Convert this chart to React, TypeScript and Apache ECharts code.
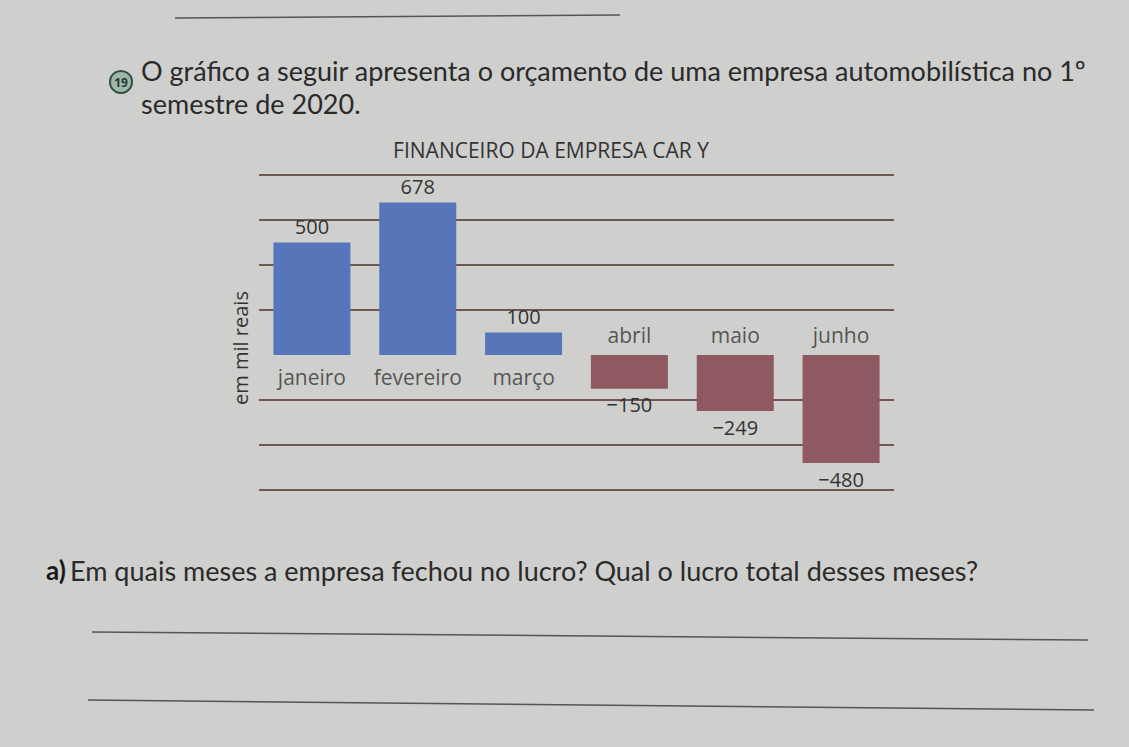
import React, { useEffect, useRef } from "react";
import * as echarts from "echarts";

const months = ["janeiro", "fevereiro", "março", "abril", "maio", "junho"];
const values = [500, 678, 100, -150, -249, -480];
const yMin = -600;
const yMax = 800;
const yStep = 200;
const chartTitle = "FINANCEIRO DA EMPRESA CAR Y";
const yName = "em mil reais";
const introLine1 = "O gráfico a seguir apresenta o orçamento de uma empresa automobilística no 1º";
const introLine2 = "semestre de 2020.";
const question = "Em quais meses a empresa fechou no lucro? Qual o lucro total desses meses?";

const BLUE = "#5676b9";
const MAROON = "#8f5961";
const GRID = "#4e302a";
const TEXT = "#333333";
const FONT = "Lato, 'Open Sans', sans-serif";
const CFONT = "'Open Sans', Lato, sans-serif";

const fmt = (v: number) => (v < 0 ? "\u2212" + Math.abs(v) : String(v));

export default function App() {
  const ref = useRef<HTMLDivElement>(null);
  useEffect(() => {
    if (!ref.current) return;
    const chart = echarts.init(ref.current, undefined, { renderer: "svg" });
    const tickCount = (yMax - yMin) / yStep + 1;
    const lineColors: string[] = [];
    for (let i = 0; i < tickCount; i++) {
      lineColors.push(yMin + i * yStep === 0 ? "rgba(0,0,0,0)" : GRID);
    }
    chart.setOption({
      animation: false,
      backgroundColor: "#cfcfcd",
      textStyle: { fontFamily: CFONT },
      title: {
        text: chartTitle,
        left: 546,
        top: 134,
        textAlign: "center",
        textStyle: { color: TEXT, fontSize: 21, fontWeight: "normal", fontFamily: CFONT },
      },
      grid: { left: 259, right: 235, top: 175, bottom: 257, containLabel: false },
      xAxis: {
        type: "category",
        data: months,
        axisLine: { show: false },
        axisTick: { show: false },
        axisLabel: { show: false },
        splitLine: { show: false },
      },
      yAxis: {
        type: "value",
        min: yMin,
        max: yMax,
        interval: yStep,
        axisLine: { show: false },
        axisTick: { show: false },
        axisLabel: { show: false },
        splitLine: { show: true, lineStyle: { color: lineColors, width: 1.6 } },
      },
      series: [
        {
          type: "bar",
          barWidth: 77,
          data: values.map((v) => ({
            value: v,
            itemStyle: { color: v >= 0 ? BLUE : MAROON },
            label: { position: v >= 0 ? "top" : "bottom", distance: 6 },
          })),
          label: {
            show: true,
            color: TEXT,
            fontSize: 20,
            fontFamily: CFONT,
            formatter: (p: any) => fmt(p.value),
          },
        },
        {
          type: "scatter",
          symbolSize: 0,
          silent: true,
          data: months.map((m, i) => ({
            value: [m, 0],
            label: {
              show: true,
              position: values[i] >= 0 ? "bottom" : "top",
              distance: values[i] >= 0 ? 11 : 10,
              formatter: m,
            },
          })),
          label: { color: TEXT, fontSize: 21, fontFamily: CFONT },
        },
      ],
      graphic: [
        { type: "text", x: 240, y: 348, rotation: Math.PI / 2, style: { text: yName, fill: TEXT, font: `20px ${CFONT}`, align: "center", verticalAlign: "middle" } },
        { type: "line", shape: { x1: 175, y1: 18, x2: 620, y2: 15 }, style: { stroke: "#555", lineWidth: 1.5 } },
        { type: "circle", shape: { cx: 121, cy: 82, r: 11 }, style: { fill: "#9db8a8", stroke: "#2f4f45", lineWidth: 2 } },
        { type: "text", x: 121, y: 82, style: { text: "19", fill: "#1f3a30", font: "bold 12px 'Open Sans', sans-serif", align: "center", verticalAlign: "middle" } },
        { type: "text", x: 141, y: 70, style: { text: introLine1, fill: "#2a2a2a", font: `27px ${FONT}`, verticalAlign: "middle" } },
        { type: "text", x: 141, y: 103, style: { text: introLine2, fill: "#2a2a2a", font: `27px ${FONT}`, verticalAlign: "middle" } },
        { type: "text", x: 46, y: 570, style: { text: "a)", fill: "#1a1a1a", font: `bold 26px ${FONT}`, verticalAlign: "middle" } },
        { type: "text", x: 70, y: 570, style: { text: question, fill: "#2a2a2a", font: `27px ${FONT}`, verticalAlign: "middle" } },
        { type: "line", shape: { x1: 92, y1: 632, x2: 1088, y2: 640 }, style: { stroke: "#555", lineWidth: 1.5 } },
        { type: "line", shape: { x1: 88, y1: 700, x2: 1094, y2: 710 }, style: { stroke: "#555", lineWidth: 1.5 } },
      ],
    });
    return () => chart.dispose();
  }, []);
  return <div ref={ref} style={{ position: "absolute", left: 0, top: 0, width: 1129, height: 747 }} />;
}
